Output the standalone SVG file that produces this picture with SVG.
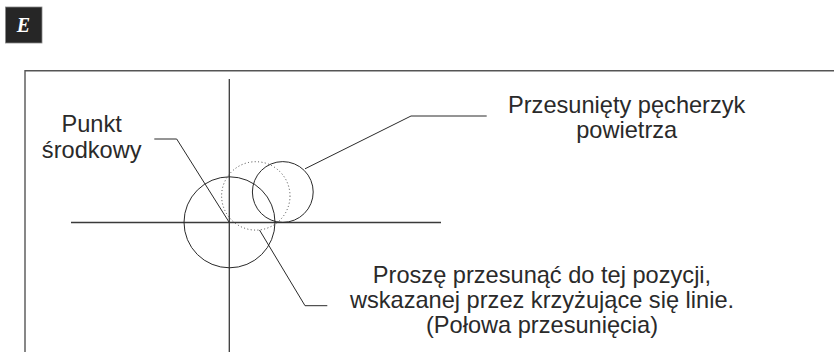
<svg xmlns="http://www.w3.org/2000/svg" width="834" height="352" viewBox="0 0 834 352">
<style>
.t{font-family:"Liberation Sans",Arial,sans-serif;font-size:23.6px;fill:#2a2a2a;text-anchor:middle}
.ln{fill:none;stroke:#2a2a2a;stroke-width:1}
.ax{fill:none;stroke:#3a3a3a;stroke-width:1.3}
</style>
<rect width="834" height="352" fill="#fff"/>
<g id="badge">
<rect x="5.5" y="7" width="36.5" height="36" fill="#262626" stroke="#888" stroke-width="0.8"/>
<text x="23.5" y="32" font-family="Liberation Serif,serif" font-style="italic" font-weight="bold" font-size="20" fill="#fff" text-anchor="middle">E</text>
</g>
<g id="frame">
<path d="M25,352 V70.7 H834" fill="none" stroke="#555" stroke-width="1.4"/>
</g>
<g id="axes">
<line class="ax" x1="229.3" y1="79" x2="229.3" y2="352"/>
<line class="ax" x1="71" y1="222.5" x2="441" y2="222.5"/>
</g>
<g id="center-circle"><circle class="ln" cx="229.5" cy="222.3" r="45.5"/></g>
<g id="shifted-bubble"><circle class="ln" cx="282.8" cy="192" r="30.4"/></g>
<g id="target-circle"><circle cx="255.8" cy="195.9" r="34.2" fill="none" stroke="#444" stroke-width="1" stroke-dasharray="1 2.4"/></g>
<g id="connectors">
<polyline class="ln" points="154.3,139 176.7,139 229.3,222.5"/>
<polyline class="ln" points="486.7,116 411,116 305,168.8"/>
<polyline class="ln" points="327.3,305.7 305,305.7 259.5,230"/>
</g>
<g id="label-punkt">
<text class="t" x="91.7" y="132.3">Punkt</text>
<text class="t" x="91.7" y="158">środkowy</text>
</g>
<g id="label-bubble">
<text class="t" x="626.7" y="113.3">Przesunięty pęcherzyk</text>
<text class="t" x="626.7" y="138">powietrza</text>
</g>
<g id="label-move">
<text class="t" x="542" y="283.3">Proszę przesunąć do tej pozycji,</text>
<text class="t" x="542" y="308.3">wskazanej przez krzyżujące się linie.</text>
<text class="t" x="542" y="332.5">(Połowa przesunięcia)</text>
</g>
</svg>
